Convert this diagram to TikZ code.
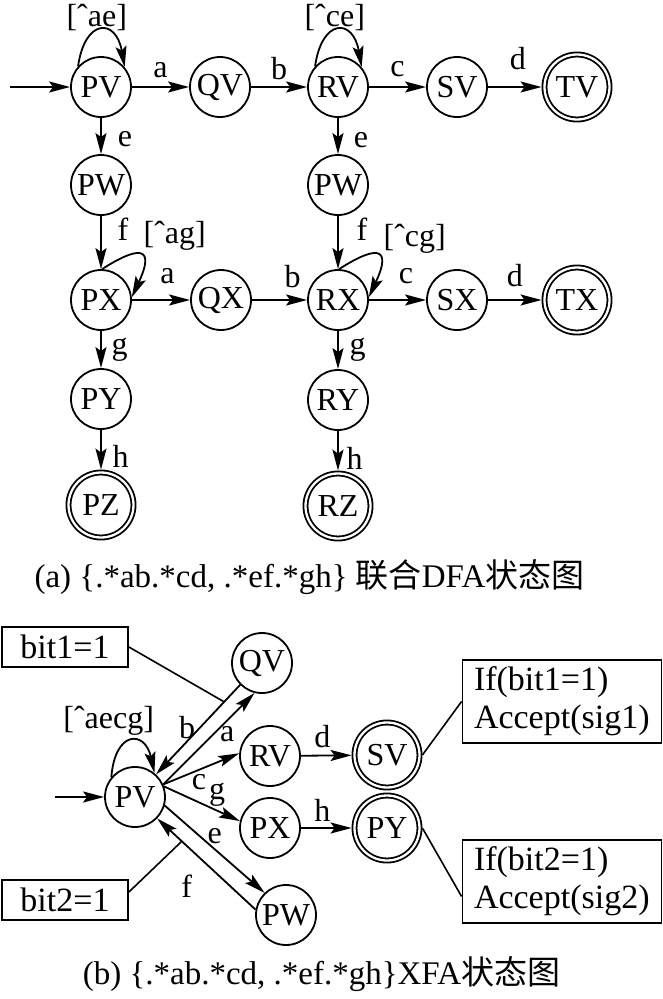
\documentclass[tikz,border=0pt]{standalone}
\usepackage{fontspec}
\setmainfont{Liberation Serif}
\newfontfamily\cjk{Noto Sans CJK SC}
\usetikzlibrary{arrows.meta,calc}
\begin{document}
\begin{tikzpicture}[x=1pt,y=-1pt,
  st/.style={circle,draw,line width=1.8pt,minimum size=60pt,inner sep=0pt,font=\fontsize{32}{32}\selectfont},
  acc/.style={st,minimum size=65pt,double,double distance=2.3pt,outer sep=2.9pt},
  ed/.style={line width=1.8pt,-{Stealth[length=21pt,width=11pt,inset=4pt]}},
  ln/.style={line width=1.6pt},
  lbl/.style={inner sep=0pt,font=\fontsize{32}{32}\selectfont},
  box/.style={draw,line width=1.8pt,font=\fontsize{34}{38}\selectfont},
  captext/.style={inner sep=0pt,font=\fontsize{33}{33}\selectfont}
]
\fill[white] (0,0) rectangle (663,999);
\useasboundingbox (0,0) rectangle (663,999);

% ---------- (a) ----------
\node[st]  (PV1) at (101,87)  {PV};
\node[st]  (QV1) at (220,87)  {QV};
\node[st]  (RV1) at (338,87)  {RV};
\node[st]  (SV1) at (457,87)  {SV};
\node[acc] (TV1) at (577,87)  {TV};
\node[st]  (PW1) at (101,185) {PW};
\node[st]  (PW2) at (338,185) {PW};
\node[st]  (PX1) at (101,300) {PX};
\node[st]  (QX1) at (221,300) {QX};
\node[st]  (RX1) at (338,300) {RX};
\node[st]  (SX1) at (457,300) {SX};
\node[acc] (TX1) at (577,300) {TX};
\node[st]  (PY1) at (101,399) {PY};
\node[acc] (PZ1) at (101,505) {PZ};
\node[st]  (RY1) at (338,400) {RY};
\node[acc] (RZ1) at (338,506) {RZ};
\coordinate (s1) at (10,87);

\draw[ed] (s1) -- (PV1);
\draw[ed] (PV1) -- node[lbl,yshift=16.5pt]{a} (QV1);
\draw[ed] (QV1) -- node[lbl,yshift=18.5pt]{b} (RV1);
\draw[ed] (RV1) -- node[lbl,yshift=17.5pt]{c} (SV1);
\draw[ed] (SV1) -- node[lbl,xshift=3pt,yshift=28.5pt]{d} (TV1);
\draw[ed] (PV1.138) .. controls (85,18) and (116,18) .. node[lbl,pos=.5,xshift=-4pt,yshift=13pt]{[ˆae]} (PV1.40);
\draw[ed] (RV1.138) .. controls (322,18) and (353,18) .. node[lbl,pos=.5,xshift=-3pt,yshift=13pt]{[ˆce]} (RV1.40);
\draw[ed] (PV1) -- node[lbl,xshift=24pt,yshift=-3pt]{e} (PW1);
\draw[ed] (RV1) -- node[lbl,xshift=23pt,yshift=-4pt]{e} (PW2);
\draw[ed] (PW1) -- node[lbl,xshift=22pt,yshift=13.5pt]{f} (PX1);
\draw[ed] (PW2) -- node[lbl,xshift=24pt,yshift=13.5pt]{f} (RX1);
\draw[ed] (PX1.88) .. controls (135,248) and (157,243) .. node[lbl,pos=.5,xshift=36pt,yshift=19pt]{[ˆag]} (PX1.5);
\draw[ed] (RX1.88) .. controls (372,248) and (394,243) .. node[lbl,pos=.5,xshift=39pt,yshift=16pt]{[ˆcg]} (RX1.5);
\draw[ed] (PX1) -- node[lbl,xshift=6.5pt,yshift=23.5pt]{a} (QX1);
\draw[ed] (QX1) -- node[lbl,xshift=13pt,yshift=23.5pt]{b} (RX1);
\draw[ed] (RX1) -- node[lbl,xshift=8.5pt,yshift=23.5pt]{c} (SX1);
\draw[ed] (SX1) -- node[lbl,yshift=24pt]{d} (TX1);
\draw[ed] (PX1) -- node[lbl,xshift=18.5pt]{g} (PY1);
\draw[ed] (RX1) -- node[lbl,xshift=19.5pt]{g} (RY1);
\draw[ed] (PY1) -- node[lbl,xshift=19.5pt,yshift=-7pt]{h} (PZ1);
\draw[ed] (RY1) -- node[lbl,xshift=16.5pt,yshift=-7.5pt]{h} (RZ1);

\node[captext] (capa) at (309.5,577) {(a) \{.*ab.*cd, .*ef.*gh\} {\cjk 联合}DFA{\cjk 状态图}};

% ---------- (b) ----------
\node[st]  (bPV) at (135,797) {PV};
\node[st]  (bQV) at (262,663) {QV};
\node[st]  (bRV) at (270,756) {RV};
\node[st]  (bPX) at (270,828) {PX};
\node[st]  (bPW) at (286,915) {PW};
\node[acc] (bSV) at (387,755) {SV};
\node[acc] (bPY) at (387,828) {PY};
\node[box,minimum width=126pt,minimum height=40pt,inner sep=0pt] (bit1) at (65,647) {bit1=1};
\node[box,minimum width=126pt,minimum height=40pt,inner sep=0pt] (bit2) at (65,900) {bit2=1};
\node[box,text width=176pt,align=left,inner xsep=11.5pt,minimum height=83pt] (if1) at (562,701.5) {If(bit1=1)\\Accept(sig1)};
\node[box,text width=176pt,align=left,inner xsep=11.5pt,minimum height=83pt] (if2) at (562,881.5) {If(bit2=1)\\Accept(sig2)};
\coordinate (s2) at (55,797);

\draw[ed] (s2) -- (bPV);
\draw[ed] (bPV.140) .. controls (115,730) and (145,730) .. node[lbl,pos=.5,xshift=-22pt,yshift=20pt]{[ˆaecg]} (bPV.51);
\draw[ed] (bPV.24) -- node[lbl,pos=.7,yshift=-13.5pt]{a} (bQV.256);
\draw[ed] (bQV.225) -- coordinate[pos=.19] (m1) node[lbl,pos=.63,yshift=14pt]{b} (bPV.47);
\draw[ed] (bPV.24) -- node[lbl,pos=.47,yshift=-12pt]{c} (bRV.175);
\draw[ed] (bPV.20) -- node[lbl,pos=.7,yshift=16pt]{g} (bPX.167);
\draw[ed] (bPV.344) -- node[lbl,pos=.5,yshift=13pt]{e} (bPW.134);
\draw[ed] (bPW.170) -- coordinate[pos=.75] (m2) node[lbl,pos=.7,yshift=-40pt]{f} (bPV.316);
\draw[ed] (bRV) -- node[lbl,xshift=-4pt,yshift=19pt]{d} (bSV);
\draw[ed] (bPX) -- node[lbl,xshift=-4pt,yshift=18pt]{h} (bPY);
\draw[ln] (bit1.east) -- (m1);
\draw[ln] ($(bit2.east)+(0,-8)$) -- (m2);
\draw[ln] (bSV.east) -- (if1.west);
\draw[ln] (bPY.east) -- ($(if2.west)+(0,15)$);

\node[captext] (capb) at (321.5,974) {(b) \{.*ab.*cd, .*ef.*gh\}XFA{\cjk 状态图}};
\end{tikzpicture}
\end{document}
